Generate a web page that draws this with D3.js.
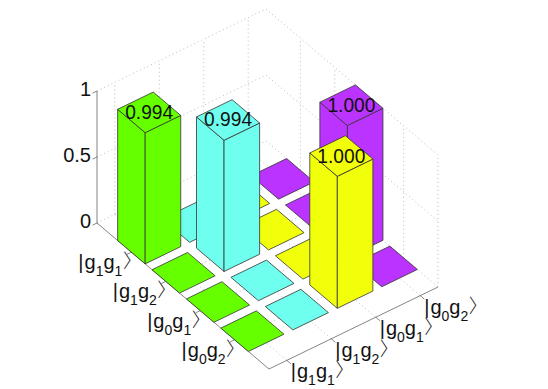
<!DOCTYPE html>
<html><head><meta charset="utf-8">
<style>html,body{margin:0;padding:0;background:#fff}svg{display:block}text{font-family:"Liberation Sans",Arial,sans-serif;fill:#111}</style>
<script src="https://cdn.jsdelivr.net/npm/d3@7"></script></head><body>
<svg id="c" width="548" height="389"></svg>
<script>
const rowLabels=[["g","1","g","1"],["g","1","g","2"],["g","0","g","1"],["g","0","g","2"]];
const colLabels=[["g","1","g","1"],["g","1","g","2"],["g","0","g","1"],["g","0","g","2"]];
const columnColors=["#66ff00","#6fffef","#f2ff0a","#bb33ff"];
const row1=[0.994,0,0,0];
const row2=[0,0.994,0,0];
const row3=[0,0,0,1.000];
const row4=[0,0,1.000,0];
const values=[row1,row2,row3,row4];
const zTicks=[0,0.5,1];
const zTickLabels=["0","0.5","1"];
const ticks=[1,2,3,4];

const iX=d3.scaleLinear().domain([0,5]).range([0,172]);
const iY=d3.scaleLinear().domain([0,5]).range([0,146]);
const jX=d3.scaleLinear().domain([0.6,4.4]).range([0,169]);
const jY=d3.scaleLinear().domain([0.6,4.4]).range([0,-82]);
const zS=d3.scaleLinear().domain([0,1]).range([0,-132]);
const P=(i,j,z=0)=>[97+iX(i)+jX(j),223+iY(i)+jY(j)+zS(z)];
const svg=d3.select("#c");
const line=d3.line();
const dot=(a,b)=>svg.append("path").attr("d",line([a,b])).attr("fill","none").attr("stroke","#aaa").attr("stroke-width",0.8).attr("stroke-dasharray","1 3");
const J0=0.6,J1=4.4,I0=0,I1=5;

// dotted grid: floor and back walls
ticks.forEach(t=>{dot(P(t,J0),P(t,J1));dot(P(I0,t),P(I1,t));
  dot(P(t,J1,0),P(t,J1,1));dot(P(I0,t,0),P(I0,t,1));});
zTicks.forEach(z=>{dot(P(I0,J0,z),P(I0,J1,z));dot(P(I0,J1,z),P(I1,J1,z));});
dot(P(I1,J1,0),P(I1,J1,1));

// solid axes
const axisLine=(a,b)=>svg.append("path").attr("d",line([a,b])).attr("fill","none").attr("stroke","#666").attr("stroke-width",0.8);
axisLine(P(I0,J0,0),P(I1,J0,0));
axisLine(P(I1,J0,0),P(I1,J1,0));
axisLine(P(I0,J0,0),P(I0,J0,1));
ticks.forEach(t=>{axisLine(P(t,J0),P(t,J0-0.1));axisLine(P(I1,t),P(I1+0.12,t));});
zTicks.forEach(z=>axisLine(P(I0,J0,z),P(I0,J0-0.1,z)));

// bars back-to-front
const half=0.4;
const cells=[];
values.forEach((r,ri)=>r.forEach((v,ci)=>cells.push({r:ri+1,c:ci+1,v})));
cells.sort((a,b)=>(a.r-a.c)-(b.r-b.c));
const face=(pts,color)=>svg.append("path").attr("d",line(pts)+"Z").attr("fill",color)
  .attr("stroke","#333").attr("stroke-width",0.8).attr("stroke-linejoin","round");
cells.forEach(d=>{
  const a=d.r-half,b=d.r+half,l=d.c-half,h=d.c+half,col=columnColors[d.c-1];
  if(d.v>0){
    face([P(a,l,0),P(b,l,0),P(b,l,d.v),P(a,l,d.v)],col);
    face([P(b,l,0),P(b,h,0),P(b,h,d.v),P(b,l,d.v)],col);
  }
  face([P(a,l,d.v),P(b,l,d.v),P(b,h,d.v),P(a,h,d.v)],col);
});

// value labels
const fs=20;
cells.filter(d=>d.v>0).forEach(d=>{const p=P(d.r,d.c,d.v);
  svg.append("text").attr("x",p[0]).attr("y",p[1]+6.5).attr("text-anchor","middle").attr("font-size",fs)
    .attr("textLength",48).attr("lengthAdjust","spacingAndGlyphs").text(d.v.toFixed(3));});

// z tick labels
zTicks.forEach((z,k)=>{const p=P(I0,J0,z);
  svg.append("text").attr("x",p[0]-6).attr("y",p[1]+5).attr("text-anchor","end").attr("font-size",fs).text(zTickLabels[k]);});

// ket labels
function ket(parts,x,y,anchor){
  const t=svg.append("text").attr("y",y).attr("font-size",fs);
  t.append("tspan").attr("x",0).text("|");
  t.append("tspan").attr("dx",1).text(parts[0]);
  t.append("tspan").attr("font-size",14).attr("dy",7).text(parts[1]);
  t.append("tspan").attr("dy",-7).text(parts[2]);
  t.append("tspan").attr("font-size",14).attr("dy",7).text(parts[3]);
  const w=t.node().getComputedTextLength()+1;
  const x0=anchor==="end"?x-w-6:x;
  t.attr("transform",`translate(${x0},0)`);
  svg.append("text").attr("x",x0+w+1).attr("y",y-1).attr("font-size",19)
    .attr("style","font-family:'Noto Sans CJK JP';font-weight:300;font-feature-settings:'palt'").text("\u3009");
}
ticks.forEach((t,k)=>{const p=P(t,J0);ket(rowLabels[k],p[0]-3,p[1]+17,"end");});
ticks.forEach((t,k)=>{const p=P(I1,t);ket(colLabels[k],p[0]+4,p[1]+18,"start");});
</script></body></html>
